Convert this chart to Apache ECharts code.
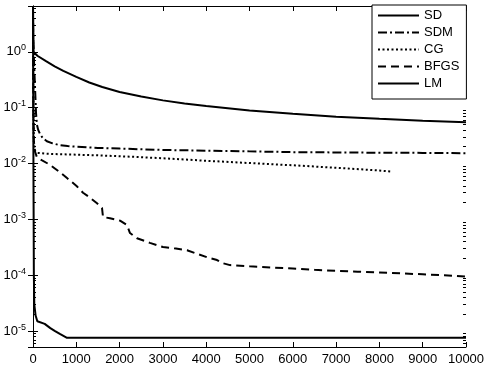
<!DOCTYPE html>
<html>
<head>
<meta charset="utf-8">
<script src="https://cdn.jsdelivr.net/npm/echarts@6/dist/echarts.min.js"></script>
<style>html,body{margin:0;padding:0;background:#fff;}#c{width:488px;height:369px;}</style>
</head>
<body>
<div id="c"></div>
<script>
// ---- data ----
const seriesNames = ['SD', 'SDM', 'CG', 'BFGS', 'LM'];
const xTicks = [0, 1000, 2000, 3000, 4000, 5000, 6000, 7000, 8000, 9000, 10000];
const yMajor = [1e-5, 1e-4, 1e-3, 1e-2, 1e-1, 1];

const sdIter = [0, 10, 100, 300, 500, 700, 1000, 1300, 1600, 2000, 2500, 3000, 3500, 4000, 5000, 6000, 7000, 8000, 9000, 10000];
const sdVal  = [6.6, 1.0, 0.85, 0.68, 0.55, 0.457, 0.355, 0.282, 0.234, 0.19, 0.158, 0.135, 0.119, 0.107, 0.089, 0.078, 0.069, 0.063, 0.058, 0.055];

const sdmIter = [0, 5, 15, 30, 50, 70, 90, 120, 160, 220, 320, 450, 600, 800, 1000, 1500, 2000, 3000, 4000, 5000, 6000, 7000, 8000, 9000, 10000];
const sdmVal  = [6.6, 2.0, 1.0, 0.5, 0.2, 0.08, 0.05, 0.04, 0.034, 0.029, 0.025, 0.023, 0.0215, 0.0205, 0.02, 0.019, 0.0185, 0.0175, 0.017, 0.0165, 0.016, 0.0158, 0.0156, 0.0155, 0.0153];

const cgIter = [0, 5, 10, 20, 40, 100, 300, 600, 1000, 1500, 2000, 2500, 3000, 3500, 4000, 5000, 6000, 7000, 8000, 8250];
const cgVal  = [6.6, 0.5, 0.08, 0.025, 0.017, 0.0155, 0.015, 0.0147, 0.0144, 0.014, 0.0135, 0.013, 0.0124, 0.0118, 0.0112, 0.0102, 0.0093, 0.0084, 0.0075, 0.0072];

const bfgsIter = [0, 5, 10, 20, 50, 90, 200, 390, 600, 785, 1000, 1155, 1300, 1478, 1594, 1617, 1778, 2010, 2171, 2240, 2402, 2700, 3002, 3300, 3557, 3800, 4018, 4250, 4365, 4550, 5000, 5500, 6000, 6500, 7000, 7500, 8000, 8500, 9000, 9500, 10000];
const bfgsVal  = [6.6, 0.5, 0.08, 0.025, 0.016, 0.013, 0.0115, 0.0095, 0.0072, 0.0055, 0.004, 0.003, 0.0025, 0.00195, 0.0016, 0.0011, 0.00105, 0.00095, 0.00079, 0.00057, 0.00046, 0.00038, 0.00032, 0.0003, 0.00028, 0.00024, 0.00021, 0.000187, 0.000166, 0.000152, 0.000145, 0.000138, 0.000132, 0.000125, 0.00012, 0.000116, 0.000112, 0.000108, 0.000104, 0.0001, 0.000095];

const lmIter = [0, 3, 6, 10, 15, 20, 30, 60, 100, 130, 270, 400, 510, 620, 785, 10000];
const lmVal  = [6.6, 1, 0.1, 0.01, 1e-3, 1e-4, 3e-5, 1.9e-5, 1.5e-5, 1.4e-5, 1.35e-5, 1.13e-5, 1.0e-5, 8.9e-6, 7.6e-6, 7.6e-6];

const yMin = 5.2e-6, yMax = 6.6;

// ---- chart ----
const FONT = 'Liberation Sans, Arial, sans-serif';
const minorLog = [];
for (let e = -6; e <= 0; e++) for (let k = 2; k <= 9; k++) {
  const v = k * Math.pow(10, e);
  if (v > yMin && v < yMax) minorLog.push(Math.log10(v));
}
const pairs = (xs, ys) => xs.map((x, i) => [x, ys[i]]);
const lineDefs = [
  { name: 'SD', data: pairs(sdIter, sdVal), type: 'solid' },
  { name: 'SDM', data: pairs(sdmIter, sdmVal), type: [9, 3, 2, 3] },
  { name: 'CG', data: pairs(cgIter, cgVal), type: [2, 2.5] },
  { name: 'BFGS', data: pairs(bfgsIter, bfgsVal), type: [8, 5] },
  { name: 'LM', data: pairs(lmIter, lmVal), type: 'solid' }
];
const black = '#000';
const chart = echarts.init(document.getElementById('c'), null, { renderer: 'canvas' });
const logAxisBase = (pos, showLabel) => ({
  type: 'log', logBase: 10, min: yMin, max: yMax, position: pos,
  axisLine: { show: true, lineStyle: { color: black, width: 1 } },
  axisTick: { show: true, inside: true, length: 5, lineStyle: { color: black } },
  splitLine: { show: false },
  axisLabel: showLabel ? {
    show: true, margin: 7, showMinLabel: false, showMaxLabel: false,
    formatter: v => '{b|10}{e|' + Math.round(Math.log10(v)) + '}',
    rich: {
      b: { fontSize: 13, fontFamily: FONT, color: black },
      e: { fontSize: 9, fontFamily: FONT, color: black, padding: [0, 0, 8, 0] }
    }
  } : { show: false }
});
const minorAxis = pos => ({
  type: 'value', min: Math.log10(yMin), max: Math.log10(yMax), position: pos,
  axisLine: { show: false },
  axisTick: { show: true, inside: true, length: 3, customValues: minorLog, lineStyle: { color: black } },
  axisLabel: { show: false }, splitLine: { show: false }
});
chart.setOption({
  animation: false,
  backgroundColor: '#fff',
  textStyle: { fontFamily: FONT },
  grid: { left: 33, right: 22, top: 6, bottom: 22, containLabel: false },
  xAxis: [
    { type: 'value', min: 0, max: 10000, interval: 1000, position: 'bottom',
      axisLine: { show: true, onZero: false, lineStyle: { color: black } },
      axisTick: { inside: true, length: 5, lineStyle: { color: black } },
      axisLabel: { fontSize: 13, color: black, margin: 6, fontFamily: FONT, formatter: v => String(v) },
      splitLine: { show: false } },
    { type: 'value', min: 0, max: 10000, interval: 1000, position: 'top',
      axisLine: { show: true, onZero: false, lineStyle: { color: black } },
      axisTick: { inside: true, length: 5, lineStyle: { color: black } },
      axisLabel: { show: false }, splitLine: { show: false } }
  ],
  yAxis: [logAxisBase('left', true), logAxisBase('right', false), minorAxis('left'), minorAxis('right')],
  legend: {
    orient: 'vertical', left: 372, top: 5,
    data: seriesNames,
    itemWidth: 41, itemHeight: 15, itemGap: 4, itemTextGap: 5,
    padding: [4, 7, 9, 5],
    backgroundColor: '#fff', borderColor: black, borderWidth: 1, borderRadius: 0,
    textStyle: { fontSize: 13, color: black, fontFamily: FONT },
    itemStyle: { color: 'rgba(0,0,0,0)', borderColor: 'rgba(0,0,0,0)', borderWidth: 0, opacity: 0 }
  },
  series: lineDefs.map(d => ({
    name: d.name, type: 'line', xAxisIndex: 0, yAxisIndex: 0,
    data: d.data, showSymbol: false, symbol: 'none', smooth: false, clip: true,
    lineStyle: { color: black, width: 2, type: d.type },
    itemStyle: { color: black }
  }))
});
</script>
</body>
</html>
